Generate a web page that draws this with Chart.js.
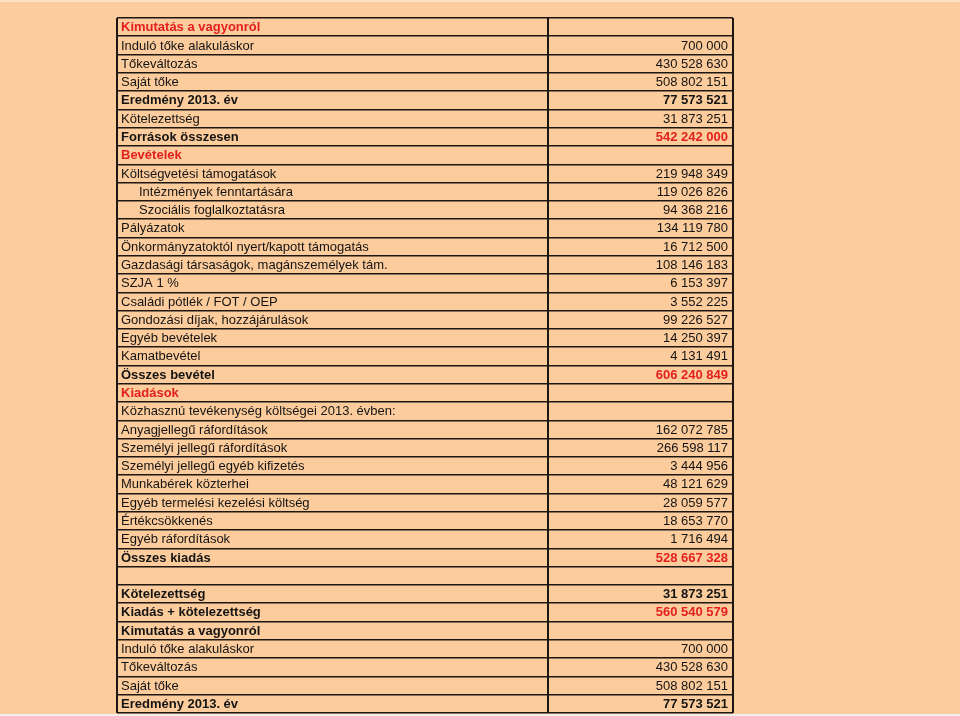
<!DOCTYPE html>
<html lang="hu">
<head>
<meta charset="utf-8">
<title>Kimutatás a vagyonról</title>
<script src="https://cdn.jsdelivr.net/npm/chart.js@4.4.1/dist/chart.umd.min.js"></script>
<style>
  html, body { margin: 0; padding: 0; background: #fccc9c; }
  #tabla { display: block; }
</style>
</head>
<body>
<canvas id="tabla" width="960" height="716"></canvas>
<script>
// Sorok megnevezése
const rowLabels = [
  'Kimutatás a vagyonról',
  'Induló tőke alakuláskor',
  'Tőkeváltozás',
  'Saját tőke',
  'Eredmény 2013. év',
  'Kötelezettség',
  'Források összesen',
  'Bevételek',
  'Költségvetési támogatások',
  'Intézmények fenntartására',
  'Szociális foglalkoztatásra',
  'Pályázatok',
  'Önkormányzatoktól nyert/kapott támogatás',
  'Gazdasági társaságok, magánszemélyek tám.',
  'SZJA 1 %',
  'Családi pótlék / FOT / OEP',
  'Gondozási díjak, hozzájárulások',
  'Egyéb bevételek',
  'Kamatbevétel',
  'Összes bevétel',
  'Kiadások',
  'Közhasznú tevékenység költségei 2013. évben:',
  'Anyagjellegű ráfordítások',
  'Személyi jellegű ráfordítások',
  'Személyi jellegű egyéb kifizetés',
  'Munkabérek közterhei',
  'Egyéb termelési kezelési költség',
  'Értékcsökkenés',
  'Egyéb ráfordítások',
  'Összes kiadás',
  '',
  'Kötelezettség',
  'Kiadás + kötelezettség',
  'Kimutatás a vagyonról',
  'Induló tőke alakuláskor',
  'Tőkeváltozás',
  'Saját tőke',
  'Eredmény 2013. év'
];

// Összegek (Ft), üres cella = null
const rowValues = [
  null, 700000, 430528630, 508802151, 77573521, 31873251, 542242000,
  null, 219948349, 119026826, 94368216, 134119780, 16712500, 108146183,
  6153397, 3552225, 99226527, 14250397, 4131491, 606240849,
  null, null, 162072785, 266598117, 3444956, 48121629, 28059577,
  18653770, 1716494, 528667328,
  null, 31873251, 560540579, null, 700000, 430528630, 508802151, 77573521
];

// Oszlophatárok a vízszintes skálán
const columnEdges = [0, 0.7, 1];

// Formázás (sorindexek)
const boldLabelRows = [0, 4, 6, 7, 19, 20, 29, 31, 32, 33, 37];
const redLabelRows = [0, 7, 20];
const boldValueRows = [4, 6, 19, 29, 31, 32, 37];
const redValueRows = [6, 19, 29, 32];
const indentRows = [9, 10];

const PIROS = '#e3201c';
const FEKETE = '#141414';
const VONAL = '#1c1712';
const BETU = '"Liberation Sans", Arial, sans-serif';

function fmtOsszeg(v) {
  if (v === null || v === undefined) return '';
  return String(v).replace(/\B(?=(\d{3})+(?!\d))/g, ' ');
}

const hatterPlugin = {
  id: 'hatter',
  beforeDraw(chart) {
    const { ctx, width, height } = chart;
    ctx.save();
    ctx.fillStyle = '#fccc9c';
    ctx.fillRect(0, 0, width, height);
    ctx.fillStyle = '#fde1c4';
    ctx.fillRect(0, 0, width, 2);
    ctx.fillStyle = '#f2eeea';
    ctx.fillRect(0, height - 2, width, 2);
    ctx.restore();
  }
};

const cellaPlugin = {
  id: 'cellak',
  afterDraw(chart) {
    const { ctx } = chart;
    const x = chart.scales.x;
    const y = chart.scales.y;
    const balX = x.getPixelForValue(columnEdges[0]);
    const jobbX = x.getPixelForValue(columnEdges[2]);
    ctx.save();
    ctx.textBaseline = 'middle';
    rowLabels.forEach((lbl, i) => {
      const cy = y.getPixelForValue(i) + 0.5;
      // megnevezés
      ctx.textAlign = 'left';
      ctx.font = (boldLabelRows.includes(i) ? 'bold ' : '') + '13px ' + BETU;
      ctx.fillStyle = redLabelRows.includes(i) ? PIROS : FEKETE;
      ctx.fillText(lbl, balX + (indentRows.includes(i) ? 22 : 4), cy);
      // összeg
      ctx.textAlign = 'right';
      ctx.font = (boldValueRows.includes(i) ? 'bold ' : '') + '13px ' + BETU;
      ctx.fillStyle = redValueRows.includes(i) ? PIROS : FEKETE;
      ctx.fillText(fmtOsszeg(rowValues[i]), jobbX - 5, cy);
    });
    ctx.restore();
  }
};

new Chart(document.getElementById('tabla'), {
  type: 'bar',
  data: {
    labels: rowLabels,
    datasets: [{ data: rowValues.map(() => null) }]
  },
  options: {
    indexAxis: 'y',
    responsive: false,
    animation: false,
    events: [],
    layout: { padding: { left: 117, right: 227, top: 18, bottom: 3 } },
    plugins: { legend: { display: false }, tooltip: { enabled: false } },
    scales: {
      x: {
        type: 'linear',
        min: 0,
        max: 1,
        afterBuildTicks: (axis) => { axis.ticks = columnEdges.map(v => ({ value: v })); },
        ticks: { display: false },
        border: { display: false },
        grid: { color: VONAL, lineWidth: 2, drawTicks: false }
      },
      y: {
        type: 'category',
        offset: true,
        ticks: { display: false },
        border: { display: false },
        grid: { offset: true, color: VONAL, lineWidth: 1.6, drawTicks: false }
      }
    }
  },
  plugins: [hatterPlugin, cellaPlugin]
});
</script>
</body>
</html>
